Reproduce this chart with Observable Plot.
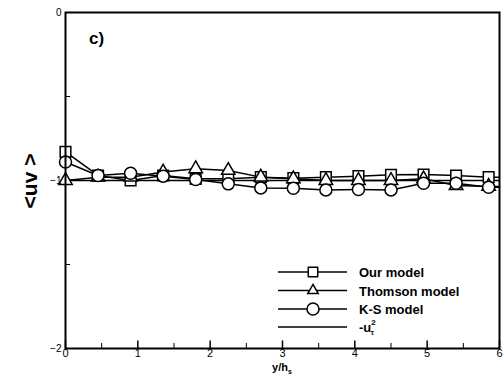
<!DOCTYPE html>
<html><head><meta charset="utf-8">
<script src="https://cdn.jsdelivr.net/npm/d3@7"></script>
<script src="https://cdn.jsdelivr.net/npm/@observablehq/plot@0.6"></script>
<style>body{margin:0;background:#fff}#c{width:504px;height:378px}</style>
</head><body><div id="c"></div>
<script>
const xs = [0,0.45,0.9,1.35,1.8,2.25,2.7,3.15,3.6,4.05,4.5,4.95,5.4,5.85,6];
const ourModel = [-0.83,-0.97,-1.0,-0.97,-0.99,-0.99,-0.98,-0.986,-0.98,-0.974,-0.966,-0.964,-0.97,-0.98,-0.98];
const thomson = [-1.0,-0.98,-0.98,-0.95,-0.93,-0.94,-0.98,-0.99,-1.0,-1.0,-1.0,-0.99,-1.03,-1.035,-1.035];
const ksModel = [-0.89,-0.97,-0.957,-0.974,-0.994,-1.02,-1.044,-1.046,-1.056,-1.054,-1.056,-1.016,-1.016,-1.04,-1.04];
const uTau2 = -1;
const xTicks = [0,1,2,3,4,5,6];
const xMinor = [0.5,1.5,2.5,3.5,4.5,5.5];
const yTicks = [0,-1,-2];
const yMinor = [-0.5,-1.5];
const seriesNames = ["Our model","Thomson model","K-S model"];

const nMarkers = 14;
const mk = (vals) => xs.map((x,i)=>({x, y: vals[i], i}));
const sq = mk(ourModel), tr = mk(thomson), ci = mk(ksModel);
const markers = d => d.filter(p => p.i < nMarkers);

const chart = Plot.plot({
  width: 504, height: 378,
  marginLeft: 65, marginRight: 5, marginTop: 12, marginBottom: 30,
  style: {fontFamily: "Liberation Sans, Arial, sans-serif", background: "#fff", overflow: "visible"},
  x: {domain: [0,6]},
  y: {domain: [-2,0]},
  marks: [
    Plot.ruleY([uTau2], {stroke: "black", strokeWidth: 1.5}),
    Plot.line(sq, {x: "x", y: "y", stroke: "black", strokeWidth: 1.5}),
    Plot.line(tr, {x: "x", y: "y", stroke: "black", strokeWidth: 1.5}),
    Plot.line(ci, {x: "x", y: "y", stroke: "black", strokeWidth: 1.5}),
    Plot.dot(markers(sq), {x: "x", y: "y", symbol: "square", r: 6, fill: "white", stroke: "black", strokeWidth: 1.5}),
    Plot.dot(markers(tr), {x: "x", y: "y", symbol: "triangle", r: 5, fill: "white", stroke: "black", strokeWidth: 1.5}),
    Plot.dot(markers(ci), {x: "x", y: "y", symbol: "circle", r: 6, fill: "white", stroke: "black", strokeWidth: 1.5}),
    Plot.ruleX(xTicks, {y1: -2, y2: -1.955, stroke: "black", strokeWidth: 1.5}),
    Plot.ruleX(xMinor, {y1: -2, y2: -1.97, stroke: "black", strokeWidth: 1}),
    Plot.ruleY(yMinor, {x1: 0, x2: 0.07, stroke: "black", strokeWidth: 1}),
    Plot.frame({stroke: "black", strokeWidth: 2}),
    Plot.axisX(xTicks, {tickSize: 0, tickPadding: 1, fontSize: 11, label: null, tickFormat: d3.format("d")}),
    Plot.axisY(yTicks, {tickSize: 0, tickPadding: 4, fontSize: 10, label: null, tickFormat: d3.format("d")})
  ]
});
document.getElementById("c").appendChild(chart);

const svg = d3.select(chart);
const F = "Liberation Sans, Arial, sans-serif";
svg.append("text").attr("x", 89).attr("y", 44).attr("text-anchor", "start").attr("font-family", F).attr("font-weight", "bold").attr("font-size", 17).text("c)");
svg.append("text").attr("transform", "translate(37,181) rotate(-90)").attr("text-anchor", "middle")
  .attr("font-family", F).attr("font-weight", "bold").attr("font-size", 21).text("<uv >");
const xl = svg.append("text").attr("x", 282).attr("y", 371).attr("text-anchor", "middle")
  .attr("font-family", F).attr("font-weight", "bold").attr("font-size", 11);
xl.append("tspan").text("y/h");
xl.append("tspan").attr("font-size", 7).attr("dy", 3).text("s");

const symbols = ["square","triangle","circle"];
const symR = [6,5,6];
const rows = [272, 290.5, 309, 327];
const lx1 = 278, lx2 = 347, lmx = 313, tx = 359;
const symFn = {square: d3.symbolSquare2, triangle: d3.symbolTriangle2, circle: d3.symbolCircle};
seriesNames.forEach((name, k) => {
  const y = rows[k];
  svg.append("line").attr("x1", lx1).attr("x2", lx2).attr("y1", y).attr("y2", y).attr("stroke", "black").attr("stroke-width", 1.5);
  svg.append("path").attr("transform", `translate(${lmx},${y})`)
    .attr("d", d3.symbol(symFn[symbols[k]], Math.PI * symR[k] * symR[k])())
    .attr("fill", "white").attr("stroke", "black").attr("stroke-width", 1.5);
  svg.append("text").attr("x", tx).attr("y", y + 5).attr("text-anchor", "start").attr("font-family", F).attr("font-weight", "bold").attr("font-size", 13).text(name);
});
svg.append("line").attr("x1", lx1).attr("x2", lx2).attr("y1", rows[3]).attr("y2", rows[3]).attr("stroke", "black").attr("stroke-width", 1.5);
const ut = svg.append("text").attr("x", tx).attr("y", rows[3] + 5).attr("text-anchor", "start").attr("font-family", F).attr("font-weight", "bold").attr("font-size", 13);
ut.append("tspan").text("-u");
ut.append("tspan").attr("font-size", 8).attr("dy", -7).text("2");
ut.append("tspan").attr("font-size", 7).attr("dx", -5).attr("dy", 10).text("τ");
</script>
</body></html>
